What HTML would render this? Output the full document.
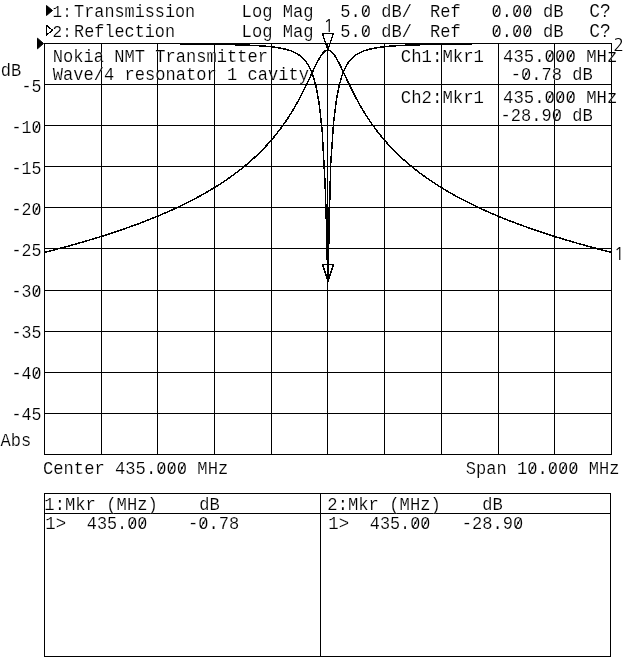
<!DOCTYPE html>
<html lang="en"><head><meta charset="utf-8"><title>Network analyzer plot</title>
<style>html,body{margin:0;padding:0;background:#fff;overflow:hidden}svg{display:block;will-change:transform}text{font-family:"Liberation Mono","DejaVu Sans Mono",monospace;fill:#000;white-space:pre}</style>
</head><body>
<svg width="640" height="659" viewBox="0 0 640 659">
<rect width="640" height="659" fill="#fff"/>
<g stroke="#000" stroke-width="1" shape-rendering="crispEdges" fill="none">
<line x1="44.5" y1="43" x2="44.5" y2="455"/>
<line x1="101.5" y1="43" x2="101.5" y2="455"/>
<line x1="157.5" y1="43" x2="157.5" y2="455"/>
<line x1="214.5" y1="43" x2="214.5" y2="455"/>
<line x1="271.5" y1="43" x2="271.5" y2="455"/>
<line x1="327.5" y1="43" x2="327.5" y2="455"/>
<line x1="384.5" y1="43" x2="384.5" y2="455"/>
<line x1="441.5" y1="43" x2="441.5" y2="455"/>
<line x1="498.5" y1="43" x2="498.5" y2="455"/>
<line x1="554.5" y1="43" x2="554.5" y2="455"/>
<line x1="611.5" y1="43" x2="611.5" y2="455"/>
<line x1="44" y1="43.5" x2="612" y2="43.5"/>
<line x1="44" y1="84.5" x2="612" y2="84.5"/>
<line x1="44" y1="125.5" x2="612" y2="125.5"/>
<line x1="44" y1="166.5" x2="612" y2="166.5"/>
<line x1="44" y1="207.5" x2="612" y2="207.5"/>
<line x1="44" y1="248.5" x2="612" y2="248.5"/>
<line x1="44" y1="290.5" x2="612" y2="290.5"/>
<line x1="44" y1="331.5" x2="612" y2="331.5"/>
<line x1="44" y1="372.5" x2="612" y2="372.5"/>
<line x1="44" y1="413.5" x2="612" y2="413.5"/>
<line x1="44" y1="454.5" x2="612" y2="454.5"/>
</g>
<g stroke="#000" stroke-width="1.5" fill="none" stroke-linejoin="round" shape-rendering="crispEdges">
<polyline points="44.40,252.35 47.23,251.63 50.07,250.91 52.91,250.18 55.74,249.44 58.58,248.70 61.41,247.95 64.25,247.19 67.08,246.42 69.91,245.64 72.75,244.85 75.58,244.06 78.42,243.26 81.25,242.44 84.09,241.62 86.92,240.79 89.76,239.95 92.59,239.10 95.43,238.24 98.27,237.37 101.10,236.49 103.94,235.59 106.77,234.69 109.60,233.77 112.44,232.84 115.28,231.90 118.11,230.95 120.94,229.99 123.78,229.01 126.62,228.02 129.45,227.01 132.28,225.99 135.12,224.96 137.96,223.91 140.79,222.84 143.62,221.76 146.46,220.66 149.29,219.55 152.13,218.41 154.97,217.26 157.80,216.09 160.63,214.91 163.47,213.70 166.31,212.47 169.14,211.22 171.97,209.95 174.81,208.65 177.65,207.33 180.48,205.99 183.31,204.62 186.15,203.23 188.99,201.80 191.82,200.35 194.66,198.87 197.49,197.36 200.33,195.82 203.16,194.24 206.00,192.63 208.83,190.98 211.66,189.29 214.50,187.57 217.34,185.80 220.17,183.99 223.00,182.13 225.84,180.22 228.68,178.26 231.51,176.25 234.34,174.18 237.18,172.06 240.02,169.87 242.85,167.61 245.69,165.28 248.52,162.88 251.36,160.40 254.19,157.83 257.02,155.17 259.86,152.41 262.69,149.55 265.53,146.58 268.37,143.49 271.20,140.27 274.03,136.92 276.87,133.41 279.70,129.75 282.54,125.90 285.38,121.88 288.21,117.65 291.05,113.20 293.88,108.52 296.71,103.60 299.55,98.43 302.38,92.99 305.22,87.31 308.05,81.42 310.89,75.38 313.72,69.34 316.56,63.49 319.39,58.17 322.23,53.82 325.06,50.93 327.90,49.91 330.73,50.93 333.57,53.82 336.40,58.17 339.24,63.49 342.07,69.34 344.91,75.38 347.75,81.42 350.58,87.31 353.41,92.99 356.25,98.43 359.08,103.60 361.92,108.52 364.75,113.20 367.59,117.65 370.42,121.88 373.26,125.90 376.09,129.75 378.93,133.41 381.76,136.92 384.60,140.27 387.44,143.49 390.27,146.58 393.10,149.55 395.94,152.41 398.77,155.17 401.61,157.83 404.44,160.40 407.28,162.88 410.11,165.28 412.95,167.61 415.78,169.87 418.62,172.06 421.45,174.18 424.29,176.25 427.12,178.26 429.96,180.22 432.79,182.13 435.63,183.99 438.46,185.80 441.30,187.57 444.13,189.29 446.97,190.98 449.80,192.63 452.64,194.24 455.47,195.82 458.31,197.36 461.14,198.87 463.98,200.35 466.81,201.80 469.65,203.23 472.48,204.62 475.32,205.99 478.15,207.33 480.99,208.65 483.82,209.95 486.66,211.22 489.50,212.47 492.33,213.70 495.16,214.91 498.00,216.09 500.83,217.26 503.67,218.41 506.50,219.55 509.34,220.66 512.17,221.76 515.01,222.84 517.85,223.91 520.68,224.96 523.51,225.99 526.35,227.01 529.19,228.02 532.02,229.01 534.86,229.99 537.69,230.95 540.52,231.90 543.36,232.84 546.20,233.77 549.03,234.69 551.87,235.59 554.70,236.49 557.53,237.37 560.37,238.24 563.20,239.10 566.04,239.95 568.88,240.79 571.71,241.62 574.54,242.44 577.38,243.26 580.22,244.06 583.05,244.85 585.88,245.64 588.72,246.42 591.55,247.19 594.39,247.95 597.23,248.70 600.06,249.44 602.89,250.18 605.73,250.91 608.56,251.63 611.40,252.35"/>
<polyline points="180.48,44.00 183.31,44.02 186.15,44.04 188.99,44.06 191.82,44.09 194.66,44.11 197.49,44.14 200.33,44.17 203.16,44.20 206.00,44.23 208.83,44.27 211.66,44.30 214.50,44.34 217.34,44.39 220.17,44.44 223.00,44.49 225.84,44.54 228.68,44.60 231.51,44.67 234.34,44.74 237.18,44.81 240.02,44.90 242.85,44.99 245.69,45.09 248.52,45.21 251.36,45.34 254.19,45.48 257.02,45.63 259.86,45.81 262.69,46.01 265.53,46.24 268.37,46.49 271.20,46.79 274.03,47.13 276.87,47.52 279.70,47.99 282.54,48.53 285.38,49.18 288.21,49.95 291.05,50.89 293.88,52.05 296.71,53.48 299.55,55.29 302.38,57.61 305.22,60.63 308.05,64.64 310.89,70.11 313.72,77.73 316.56,88.70 319.39,105.18 322.23,131.79 325.06,182.70 327.90,268.92 330.73,163.91 333.57,122.77 336.40,99.78 339.24,85.17 342.07,75.30 344.91,68.38 347.75,63.39 350.58,59.69 353.41,56.89 356.25,54.73 359.08,53.04 361.92,51.70 364.75,50.61 367.59,49.72 370.42,48.98 373.26,48.37 376.09,47.85 378.93,47.41 381.76,47.03 384.60,46.70 387.44,46.42 390.27,46.17 393.10,45.95 395.94,45.76 398.77,45.59 401.61,45.43 404.44,45.30 407.28,45.18 410.11,45.06 412.95,44.96 415.78,44.87 418.62,44.79 421.45,44.72 424.29,44.65 427.12,44.58 429.96,44.53 432.79,44.47 435.63,44.42 438.46,44.38 441.30,44.33 444.13,44.29 446.97,44.26 449.80,44.22 452.64,44.19 455.47,44.16 458.31,44.13 461.14,44.11 463.98,44.08 466.81,44.06 469.65,44.04 472.48,44.02"/>
<polygon points="325.6,208 329.9,208 329.4,255 328.9,280 327.0,280 326.4,255" fill="#000" stroke="none"/>
</g>
<g stroke="#000" stroke-width="1.3" fill="none" stroke-linejoin="miter" shape-rendering="crispEdges">
<polygon points="322.5,33.5 333.5,33.5 327.8,49.5"/>
<polygon points="322.5,264.5 333.5,264.5 328,281"/>
<polygon points="46.5,25.5 52.5,30.2 46.5,35"/>
</g>
<g stroke="#000" stroke-width="1" fill="#000">
<polygon points="46.5,5.5 52.5,10.5 46.5,15.5"/>
<polygon points="37.5,38.2 43.5,43.5 37.5,48.8"/>
</g>
<text transform="translate(52.60,16.50) scale(1,1.085)" font-size="15.997" stroke="#fff" stroke-width="0.15" >1:</text>
<text transform="translate(74.10,16.50) scale(1,1.085)" font-size="16.831" stroke="#fff" stroke-width="0.15" >Transmission</text>
<text transform="translate(241.60,16.50) scale(1,1.085)" font-size="17.164" stroke="#fff" stroke-width="0.15" >Log Mag</text>
<text transform="translate(340.30,16.50) scale(1,1.085)" font-size="17.081" stroke="#fff" stroke-width="0.15" >5.0 dB/</text>
<text transform="translate(430.00,16.50) scale(1,1.085)" font-size="17.081" stroke="#fff" stroke-width="0.15" >Ref</text>
<text transform="translate(491.50,16.50) scale(1,1.085)" font-size="17.164" stroke="#fff" stroke-width="0.15" >0.00 dB</text>
<text transform="translate(589.20,16.50) scale(1,1.085)" font-size="17.997" stroke="#fff" stroke-width="0.15" >C?</text>
<text transform="translate(52.60,36.60) scale(1,1.085)" font-size="15.997" stroke="#fff" stroke-width="0.15" >2:</text>
<text transform="translate(74.10,36.60) scale(1,1.085)" font-size="16.831" stroke="#fff" stroke-width="0.15" >Reflection</text>
<text transform="translate(241.60,36.60) scale(1,1.085)" font-size="17.164" stroke="#fff" stroke-width="0.15" >Log Mag</text>
<text transform="translate(340.30,36.60) scale(1,1.085)" font-size="17.081" stroke="#fff" stroke-width="0.15" >5.0 dB/</text>
<text transform="translate(430.00,36.60) scale(1,1.085)" font-size="17.081" stroke="#fff" stroke-width="0.15" >Ref</text>
<text transform="translate(491.50,36.60) scale(1,1.085)" font-size="17.164" stroke="#fff" stroke-width="0.15" >0.00 dB</text>
<text transform="translate(589.20,36.60) scale(1,1.085)" font-size="17.997" stroke="#fff" stroke-width="0.15" >C?</text>
<text x="323.60" y="31.70" font-size="17.2" style="font-family:'NanumGothic','Liberation Sans',sans-serif">1</text>
<text x="613.40" y="50.60" font-size="17.2" style="font-family:'NanumGothic','Liberation Sans',sans-serif">2</text>
<text x="613.90" y="260.00" font-size="17.2" style="font-family:'NanumGothic','Liberation Sans',sans-serif">1</text>
<text transform="translate(52.80,61.60) scale(1,1.085)" font-size="17.081" stroke="#fff" stroke-width="0.15" >Nokia NMT Transmitter</text>
<text transform="translate(52.80,80.40) scale(1,1.085)" font-size="17.081" stroke="#fff" stroke-width="0.15" >Wave/4 resonator 1 cavity</text>
<text transform="translate(400.80,62.00) scale(1,1.085)" font-size="17.331" stroke="#fff" stroke-width="0.15" >Ch1:Mkr1</text>
<text transform="translate(503.00,62.00) scale(1,1.085)" font-size="17.331" stroke="#fff" stroke-width="0.15" >435.000 MHz</text>
<text transform="translate(510.80,80.30) scale(1,1.085)" font-size="17.081" stroke="#fff" stroke-width="0.15" >-0.78 dB</text>
<text transform="translate(400.80,103.00) scale(1,1.085)" font-size="17.331" stroke="#fff" stroke-width="0.15" >Ch2:Mkr1</text>
<text transform="translate(503.00,103.00) scale(1,1.085)" font-size="17.331" stroke="#fff" stroke-width="0.15" >435.000 MHz</text>
<text transform="translate(500.60,121.00) scale(1,1.085)" font-size="17.081" stroke="#fff" stroke-width="0.15" >-28.90 dB</text>
<text transform="translate(0.80,76.00) scale(1,1.085)" font-size="17.081" stroke="#fff" stroke-width="0.15" >dB</text>
<text transform="translate(21.60,92.00) scale(1,1.085)" font-size="16.664" stroke="#fff" stroke-width="0.15" >-5</text>
<text transform="translate(11.60,133.00) scale(1,1.085)" font-size="16.664" stroke="#fff" stroke-width="0.15" >-10</text>
<text transform="translate(11.60,174.00) scale(1,1.085)" font-size="16.664" stroke="#fff" stroke-width="0.15" >-15</text>
<text transform="translate(11.60,215.00) scale(1,1.085)" font-size="16.664" stroke="#fff" stroke-width="0.15" >-20</text>
<text transform="translate(11.60,256.00) scale(1,1.085)" font-size="16.664" stroke="#fff" stroke-width="0.15" >-25</text>
<text transform="translate(11.60,297.00) scale(1,1.085)" font-size="16.664" stroke="#fff" stroke-width="0.15" >-30</text>
<text transform="translate(11.60,338.00) scale(1,1.085)" font-size="16.664" stroke="#fff" stroke-width="0.15" >-35</text>
<text transform="translate(11.60,379.00) scale(1,1.085)" font-size="16.664" stroke="#fff" stroke-width="0.15" >-40</text>
<text transform="translate(11.60,420.00) scale(1,1.085)" font-size="16.664" stroke="#fff" stroke-width="0.15" >-45</text>
<text transform="translate(0.60,446.00) scale(1,1.085)" font-size="17.081" stroke="#fff" stroke-width="0.15" >Abs</text>
<text transform="translate(43.00,474.00) scale(1,1.085)" font-size="17.164" stroke="#fff" stroke-width="0.15" >Center 435.000 MHz</text>
<text transform="translate(465.80,474.00) scale(1,1.085)" font-size="17.081" stroke="#fff" stroke-width="0.15" >Span 10.000 MHz</text>
<g stroke="#000" stroke-width="1" shape-rendering="crispEdges" fill="none">
<rect x="44.5" y="493.5" width="566" height="163"/>
<line x1="44" y1="513.5" x2="611" y2="513.5"/>
<line x1="320.5" y1="493" x2="320.5" y2="657"/>
</g>
<text transform="translate(44.30,509.80) scale(1,1.085)" font-size="17.214" stroke="#fff" stroke-width="0.15" >1:Mkr (MHz)</text>
<text transform="translate(199.20,509.80) scale(1,1.085)" font-size="17.081" stroke="#fff" stroke-width="0.15" >dB</text>
<text transform="translate(45.30,529.00) scale(1,1.085)" font-size="17.331" stroke="#fff" stroke-width="0.15" >1&gt;</text>
<text transform="translate(86.80,529.00) scale(1,1.085)" font-size="16.831" stroke="#fff" stroke-width="0.15" >435.00</text>
<text transform="translate(188.00,529.00) scale(1,1.085)" font-size="17.081" stroke="#fff" stroke-width="0.15" >-0.78</text>
<text transform="translate(327.30,509.80) scale(1,1.085)" font-size="17.214" stroke="#fff" stroke-width="0.15" >2:Mkr (MHz)</text>
<text transform="translate(482.20,509.80) scale(1,1.085)" font-size="17.081" stroke="#fff" stroke-width="0.15" >dB</text>
<text transform="translate(328.30,529.00) scale(1,1.085)" font-size="17.331" stroke="#fff" stroke-width="0.15" >1&gt;</text>
<text transform="translate(369.80,529.00) scale(1,1.085)" font-size="16.831" stroke="#fff" stroke-width="0.15" >435.00</text>
<text transform="translate(461.80,529.00) scale(1,1.085)" font-size="17.081" stroke="#fff" stroke-width="0.15" >-28.90</text>
<path d="M363.53 15.00L368.53 5.80M494.25 15.00L499.25 5.80M514.85 15.00L519.85 5.80M525.15 15.00L530.15 5.80M363.53 35.10L368.53 25.90M494.25 35.10L499.25 25.90M514.85 35.10L519.85 25.90M525.15 35.10L530.15 25.90M547.40 60.50L552.40 51.30M557.80 60.50L562.80 51.30M568.20 60.50L573.20 51.30M523.77 78.80L528.77 69.60M547.40 101.50L552.40 92.30M557.80 101.50L562.80 92.30M568.20 101.50L573.20 92.30M554.58 119.50L559.58 110.30M34.20 131.50L39.20 122.30M34.20 213.50L39.20 204.30M34.20 295.50L39.20 286.30M34.20 377.50L39.20 368.30M159.05 472.50L164.05 463.30M169.35 472.50L174.35 463.30M179.65 472.50L184.65 463.30M530.02 472.50L535.02 463.30M550.52 472.50L555.52 463.30M560.77 472.50L565.77 463.30M571.02 472.50L576.02 463.30M129.85 527.50L134.85 518.30M139.95 527.50L144.95 518.30M200.97 527.50L205.97 518.30M412.85 527.50L417.85 518.30M422.95 527.50L427.95 518.30M515.77 527.50L520.77 518.30" stroke="#000" stroke-width="0.9" fill="none"/>
</svg></body></html>
